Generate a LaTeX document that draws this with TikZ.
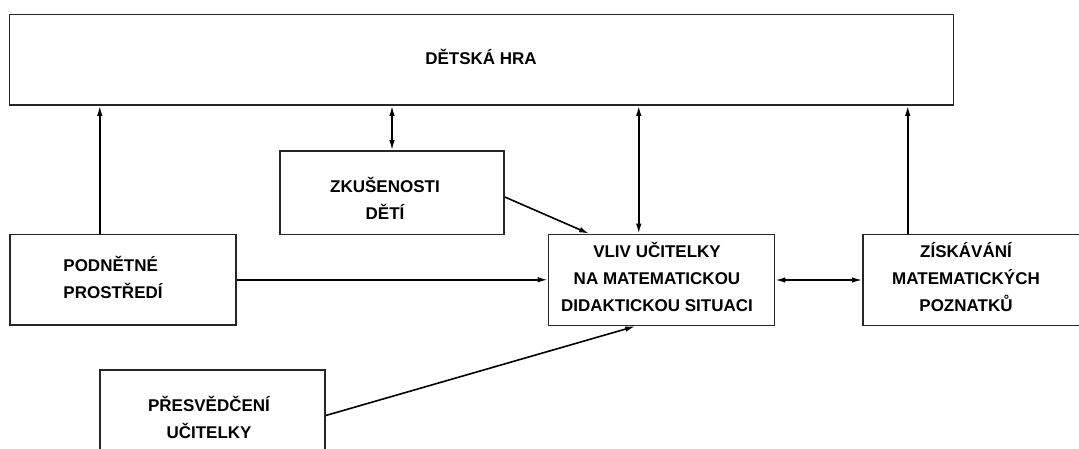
\documentclass[tikz,border=0pt]{standalone}
\usepackage{fontspec}
\setmainfont{Liberation Sans}
\usetikzlibrary{arrows.meta,calc}
\begin{document}
\begin{tikzpicture}[x=1pt,y=-1pt,
  box/.style={draw=black!85,line width=1.6pt,inner sep=0pt},
  txt/.style={font=\bfseries\fontsize{17}{27}\selectfont,align=center,inner sep=0pt},
  conn/.style={line width=1.6pt,-{Latex[length=10pt,width=5.5pt]}},
  both/.style={line width=1.6pt,{Latex[length=10pt,width=5.5pt]}-{Latex[length=10pt,width=5.5pt]}}]
\useasboundingbox (0,0) rectangle (1079,448);
\fill[white] (0,0) rectangle (1079,448);
% boxes
\node[box,minimum width=944pt,minimum height=90.5pt] (hra) at (481.5,59.75) {};
\node[box,minimum width=224pt,minimum height=83.5pt] (zk) at (392,192.75) {};
\node[box,minimum width=226pt,minimum height=90.5pt] (pod) at (123,279.75) {};
\node[box,minimum width=225pt,minimum height=91pt] (pres) at (212.5,415.5) {};
\node[box,minimum width=226pt,minimum height=91pt] (vliv) at (661.5,280) {};
\node[box,minimum width=222pt,minimum height=91pt] (zisk) at (974,280) {};
% texts
\node[txt] (hraT) at (481,57) {DĚTSKÁ HRA};
\node[txt] (zkT) at (385,198.5) {ZKUŠENOSTI\\DĚTÍ};
\node[txt,align=left] (podT) at (113,277) {PODNĚTNÉ\\PROSTŘEDÍ};
\node[txt] (presT) at (209,417.5) {PŘESVĚDČENÍ\\UČITELKY};
\node[txt] (vlivT) at (657,277) {VLIV UČITELKY\\NA MATEMATICKOU\\DIDAKTICKOU SITUACI};
\node[txt] (ziskT) at (966,277) {ZÍSKÁVÁNÍ\\MATEMATICKÝCH\\POZNATKŮ};
% connectors
\coordinate (p1) at ($(pod.north west)!0.398!(pod.north east)$);
\draw[conn] (p1) -- (p1 |- hra.south);
\draw[both] (zk.north) -- (zk.north |- hra.south);
\coordinate (v1) at ($(vliv.north west)!0.40!(vliv.north east)$);
\draw[both] (v1) -- (v1 |- hra.south);
\coordinate (z1) at ([xshift=45.5pt]zisk.north west);
\draw[conn] (z1) -- (z1 |- hra.south);
\draw[conn] (pod.east) -- (pod.east -| vliv.west);
\draw[both] (vliv.east) -- (vliv.east -| zisk.west);
\draw[conn] ([yshift=-4.25pt]zk.east) -- ([xshift=41.4pt]vliv.north west);
\draw[conn] (pres.east) -- ([xshift=87.4pt]vliv.south west);
\end{tikzpicture}
\end{document}
